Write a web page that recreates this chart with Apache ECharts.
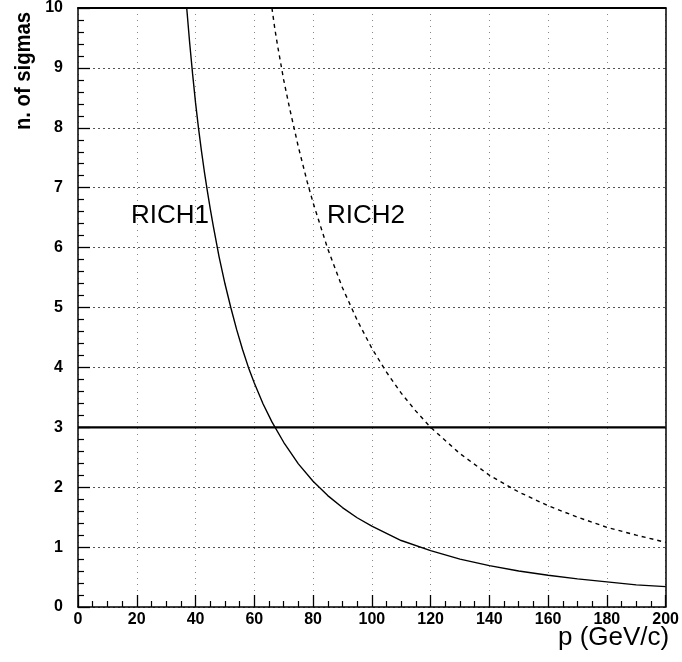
<!DOCTYPE html>
<html><head><meta charset="utf-8">
<script src="https://cdn.jsdelivr.net/npm/echarts@6/dist/echarts.min.js"></script>
<style>html,body{margin:0;background:#fff}#c{width:682px;height:662px}</style>
</head><body><div id="c"></div>
<script>
// Separation power (number of sigmas) versus momentum for the two RICH detectors
const rich1P = [37, 38, 39, 40, 41, 42, 43, 44, 45, 46, 48, 50, 52, 54, 56, 58, 60, 63, 66, 70, 75, 80, 85, 90, 95, 100, 110, 120, 130, 140, 150, 160, 170, 180, 190, 200];
const rich1N = [10.0, 9.42, 8.9, 8.42, 8.0, 7.62, 7.27, 6.95, 6.65, 6.37, 5.85, 5.4, 5.0, 4.63, 4.3, 4.0, 3.74, 3.39, 3.09, 2.75, 2.39, 2.1, 1.86, 1.66, 1.49, 1.35, 1.11, 0.94, 0.80, 0.69, 0.60, 0.53, 0.47, 0.42, 0.37, 0.34];
const rich2P = [66, 67, 68, 70, 72, 75, 78, 80, 85, 90, 95, 100, 105, 110, 115, 120, 130, 140, 150, 160, 170, 180, 190, 200];
const rich2N = [10.0, 9.65, 9.35, 8.8, 8.33, 7.68, 7.1, 6.75, 5.98, 5.33, 4.79, 4.32, 3.92, 3.57, 3.27, 3.0, 2.56, 2.2, 1.92, 1.69, 1.5, 1.33, 1.2, 1.08];
const thresholdP = [0, 200];
const thresholdN = [3, 3];
const curveLabels = ['RICH1', 'RICH2'];
const xTitle = 'p (GeV/c)';
const yTitle = 'n. of sigmas';

const pairs = (xs, ys) => xs.map((x, i) => [x, ys[i]]);
const font = 'Liberation Sans, Arial, sans-serif';

const chart = echarts.init(document.getElementById('c'), null, { renderer: 'canvas' });
chart.setOption({
  animation: false,
  backgroundColor: '#fff',
  grid: { left: 78, right: 14, top: 7, bottom: 55, containLabel: false },
  xAxis: [{
    type: 'value', min: 0, max: 200, interval: 20,
    axisLine: { show: true, onZero: false, lineStyle: { color: '#000', width: 1.5 } },
    axisTick: { show: true, inside: true, length: 12, lineStyle: { color: '#000', width: 1.3 } },
    minorTick: { show: true, splitNumber: 4, length: 6, lineStyle: { color: '#000', width: 1.2 } },
    axisLabel: { color: '#000', fontFamily: font, fontWeight: 'bold', fontSize: 16, margin: 5 },
    splitLine: { show: true, lineStyle: { color: '#888', width: 1, type: [1, 5] } }
  }, {
    type: 'value', min: 0, max: 200, position: 'top',
    axisLine: { show: true, onZero: false, lineStyle: { color: '#000', width: 2 } },
    axisTick: { show: false }, axisLabel: { show: false }, splitLine: { show: false }
  }],
  yAxis: [{
    type: 'value', min: 0, max: 10, interval: 1,
    axisLine: { show: true, onZero: false, lineStyle: { color: '#000', width: 1.5 } },
    axisTick: { show: true, inside: true, length: 12, lineStyle: { color: '#000', width: 1.3 } },
    minorTick: { show: true, splitNumber: 5, length: 6, lineStyle: { color: '#000', width: 1.2 } },
    axisLabel: { color: '#000', fontFamily: font, fontWeight: 'bold', fontSize: 16, margin: 15 },
    splitLine: { show: true, lineStyle: { color: '#555', width: 1, type: [2, 3] } }
  }, {
    type: 'value', min: 0, max: 10, position: 'right',
    axisLine: { show: true, onZero: false, lineStyle: { color: '#000', width: 1.5 } },
    axisTick: { show: false }, axisLabel: { show: false }, splitLine: { show: false }
  }],
  series: [{
    name: curveLabels[0], type: 'line', data: pairs(rich1P, rich1N),
    smooth: false,
    showSymbol: false, lineStyle: { color: '#000', width: 1.4 }
  }, {
    name: curveLabels[1], type: 'line', data: pairs(rich2P, rich2N),
    smooth: false,
    showSymbol: false, lineStyle: { color: '#000', width: 1.4, type: [4, 4] }
  }, {
    name: 'threshold', type: 'line', data: pairs(thresholdP, thresholdN),
    showSymbol: false, lineStyle: { color: '#000', width: 2.2 }
  }],
  graphic: [
    { type: 'text', left: 131, top: 203, style: { text: curveLabels[0], font: '26px ' + font, fill: '#000' } },
    { type: 'text', left: 327, top: 203, style: { text: curveLabels[1], font: '26px ' + font, fill: '#000' } },
    { type: 'text', left: 558, top: 625, style: { text: xTitle, font: '26px ' + font, fill: '#000' } },
    { type: 'text', x: 24, y: 130, rotation: Math.PI / 2, scaleX: 0.92,
      style: { text: yTitle, font: 'bold 22px ' + font, fill: '#000', textVerticalAlign: 'middle' } }
  ]
});
</script>
</body></html>
